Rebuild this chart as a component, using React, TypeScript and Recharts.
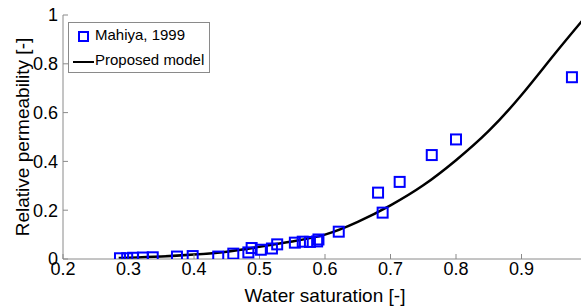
import { ComposedChart, Line, Scatter, XAxis, YAxis } from 'recharts';

// Mahiya, 1999 measurements
const satMeasured = [0.287, 0.298, 0.307, 0.322, 0.337, 0.374, 0.398, 0.437, 0.46, 0.483, 0.488, 0.502, 0.519, 0.527, 0.554, 0.566, 0.577, 0.588, 0.59, 0.621, 0.681, 0.688, 0.714, 0.763, 0.8, 0.977];
const krMeasured = [0.003, 0.003, 0.005, 0.006, 0.007, 0.01, 0.012, 0.01, 0.022, 0.027, 0.045, 0.038, 0.043, 0.06, 0.067, 0.071, 0.07, 0.072, 0.08, 0.112, 0.272, 0.19, 0.316, 0.426, 0.49, 0.745];

// proposed model curve
const satModel = [0.285, 0.3, 0.35, 0.4, 0.45, 0.5, 0.55, 0.6, 0.65, 0.7, 0.75, 0.8, 0.85, 0.9, 0.95, 1.0];
const krModel = [0.004, 0.005, 0.01, 0.018, 0.03, 0.05, 0.072, 0.1, 0.152, 0.22, 0.302, 0.405, 0.525, 0.672, 0.838, 1.0];

const xTicks = [0.2, 0.3, 0.4, 0.5, 0.6, 0.7, 0.8, 0.9];
const yTicks = [0, 0.2, 0.4, 0.6, 0.8, 1];

const measured = satMeasured.map((x, i) => ({ x, y: krMeasured[i] }));
const model = satModel.map((x, i) => ({ x, y: krModel[i] }));

const AXIS = '#8a8a8a';
const FONT = '"Liberation Sans", Arial, sans-serif';

const Square = (props: any) => {
  const { cx, cy } = props;
  if (cx == null || cy == null) return <g />;
  return <rect x={cx - 5} y={cy - 5} width={10} height={10} fill="none" stroke="#0000ff" strokeWidth={2} />;
};

const LegendBox = () => (
  <div style={{
    position: 'absolute', left: 68, top: 22, width: 142, height: 51,
    border: `1px solid ${AXIS}`, background: '#fff', boxSizing: 'border-box',
    fontFamily: FONT, fontSize: 15, color: '#000'
  }}>
    <div style={{ position: 'absolute', left: 9, top: 8, width: 7, height: 7, border: '2px solid #0000ff' }} />
    <div style={{ position: 'absolute', left: 26, top: 3 }}>Mahiya, 1999</div>
    <div style={{ position: 'absolute', left: 4, top: 38, width: 21, height: 2, background: '#000' }} />
    <div style={{ position: 'absolute', left: 26, top: 28 }}>Proposed model</div>
  </div>
);

export default function App() {
  return (
    <div style={{ position: 'absolute', left: 0, top: 0, width: 581, height: 306, overflow: 'hidden', background: '#fff', fontFamily: FONT }}>
      <ComposedChart width={600} height={306} margin={{ top: 15, right: 13, bottom: 0, left: 0 }}>
        <XAxis
          type="number" dataKey="x" domain={[0.2, 1]} ticks={xTicks} allowDataOverflow
          height={47} tickSize={-5} tickMargin={8} stroke={AXIS}
          tick={{ fill: '#000', fontSize: 18, fontFamily: FONT }}
          tickFormatter={(v: number) => String(v)}
          label={{ value: 'Water saturation [-]', position: 'insideBottom', offset: 4, fill: '#000', fontSize: 19, fontFamily: FONT }}
        />
        <XAxis
          xAxisId="top" orientation="top" type="number" dataKey="x" domain={[0.2, 1]} ticks={xTicks} allowDataOverflow
          height={0} tickSize={-5} stroke={AXIS} tick={() => <g />}
        />
        <YAxis
          type="number" dataKey="y" domain={[0, 1]} ticks={yTicks} allowDataOverflow
          width={63} tickSize={-5} tickMargin={10} stroke={AXIS}
          tick={{ fill: '#000', fontSize: 18, fontFamily: FONT }}
          tickFormatter={(v: number) => String(v)}
          label={{ value: 'Relative permeability [-]', angle: -90, position: 'insideLeft', offset: 22, fill: '#000', fontSize: 19, fontFamily: FONT, style: { textAnchor: 'middle' } }}
        />
        <Scatter data={measured} dataKey="y" shape={<Square />} isAnimationActive={false} />
        <Line data={model} dataKey="y" type="natural" stroke="#000" strokeWidth={2.5} dot={false} isAnimationActive={false} />
      </ComposedChart>
      <LegendBox />
    </div>
  );
}
